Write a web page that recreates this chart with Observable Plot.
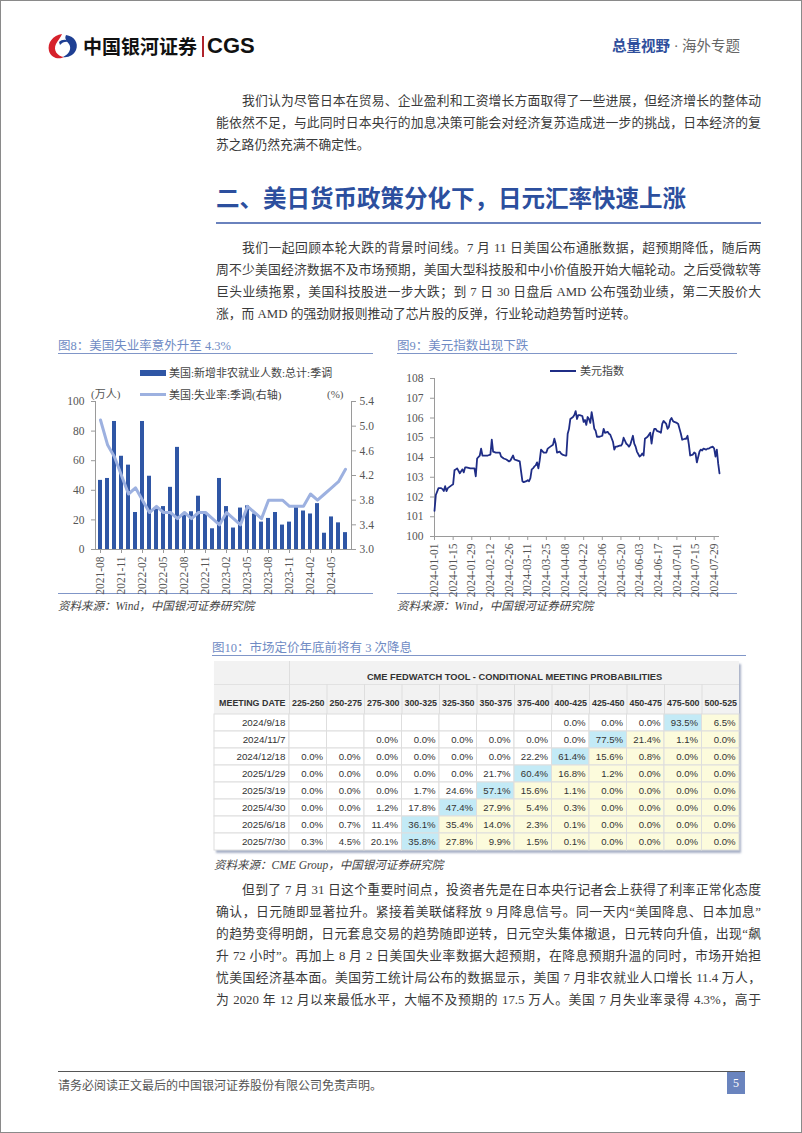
<!DOCTYPE html>
<html><head><meta charset="utf-8">
<script src="https://cdn.jsdelivr.net/npm/d3@7"></script>
<script src="https://cdn.jsdelivr.net/npm/@observablehq/plot@0.6"></script>
<style>
body{margin:0;background:#fff;}
#page{position:relative;width:800px;height:1131px;border:1px solid #8a8a8a;overflow:hidden;font-family:"Liberation Serif","Noto Sans CJK SC",serif;color:#3a3a3a;}
.abs{position:absolute;white-space:nowrap;}
.pline{position:absolute;left:215px;width:545px;height:22px;line-height:22px;font-size:12.8px;text-align:justify;text-align-last:justify;color:#3a3a3a;}
.pline.last{text-align-last:left;}
.cap{position:absolute;font-size:12.5px;color:#6f8bc4;font-family:"Liberation Serif","Noto Sans CJK SC",serif;}
.rule{position:absolute;height:0;}
.src{position:absolute;font-size:11.5px;font-style:italic;color:#444;white-space:nowrap;}
.leg{position:absolute;font-size:11px;color:#444;white-space:nowrap;font-family:"Liberation Serif","Noto Sans CJK SC",serif;}
svg{overflow:visible;}
</style>
</head><body>
<div id="page"></div>
<script>
// ---------------- DATA ----------------
const months = ["2021-08","2021-09","2021-10","2021-11","2021-12","2022-01","2022-02","2022-03","2022-04","2022-05","2022-06","2022-07","2022-08","2022-09","2022-10","2022-11","2022-12","2023-01","2023-02","2023-03","2023-04","2023-05","2023-06","2023-07","2023-08","2023-09","2023-10","2023-11","2023-12","2024-01","2024-02","2024-03","2024-04","2024-05","2024-06","2024-07"];
const payrolls = [46.7,48,86.5,63,57,25,86.5,49.5,28,29,42,69,24,25.5,36,25,14,48,29,14.5,28,29.5,24,18.5,21,25,16.5,18.5,29.5,26,24,31,11,22,18,11.4];
const unemployment = [5.1,4.7,4.5,4.2,3.9,4.0,3.8,3.6,3.7,3.6,3.6,3.5,3.6,3.5,3.6,3.6,3.5,3.4,3.6,3.5,3.4,3.7,3.6,3.5,3.8,3.8,3.8,3.7,3.7,3.7,3.9,3.8,3.9,4.0,4.1,4.3];
const payrollTicks = [0,20,40,60,80,100];
const rateTicks = [3.0,3.4,3.8,4.2,4.6,5.0,5.4];
const monthTickLabels = ["2021-08","2021-11","2022-02","2022-05","2022-08","2022-11","2023-02","2023-05","2023-08","2023-11","2024-02","2024-05"];

const dxyDates = ["2024-01-01","2024-01-02","2024-01-04","2024-01-06","2024-01-07","2024-01-08","2024-01-09","2024-01-10","2024-01-11","2024-01-12","2024-01-14","2024-01-15","2024-01-16","2024-01-17","2024-01-18","2024-01-20","2024-01-21","2024-01-22","2024-01-23","2024-01-24","2024-01-25","2024-01-28","2024-01-31",
"2024-02-01","2024-02-02","2024-02-04","2024-02-05","2024-02-06","2024-02-07","2024-02-10","2024-02-12","2024-02-13","2024-02-14","2024-02-16","2024-02-19","2024-02-20","2024-02-22","2024-02-24","2024-02-26","2024-02-27","2024-02-29",
"2024-03-01","2024-03-03","2024-03-05","2024-03-06","2024-03-07","2024-03-08","2024-03-10","2024-03-11","2024-03-12","2024-03-13","2024-03-14","2024-03-15","2024-03-16","2024-03-17","2024-03-18","2024-03-19","2024-03-20","2024-03-21","2024-03-23","2024-03-25","2024-03-26","2024-03-28","2024-03-30","2024-03-31",
"2024-04-01","2024-04-02","2024-04-04","2024-04-05","2024-04-06","2024-04-08","2024-04-09","2024-04-10","2024-04-11","2024-04-12","2024-04-14","2024-04-15","2024-04-16","2024-04-17","2024-04-18","2024-04-19","2024-04-21","2024-04-22","2024-04-23","2024-04-24","2024-04-25","2024-04-26","2024-04-27","2024-04-28","2024-04-29","2024-04-30",
"2024-05-01","2024-05-02","2024-05-04","2024-05-06","2024-05-07","2024-05-08","2024-05-10","2024-05-11","2024-05-12","2024-05-14","2024-05-15","2024-05-16","2024-05-17","2024-05-19","2024-05-20","2024-05-21","2024-05-22","2024-05-24","2024-05-25","2024-05-26","2024-05-27","2024-05-29","2024-05-30","2024-05-31",
"2024-06-01","2024-06-03","2024-06-04","2024-06-05","2024-06-06","2024-06-07","2024-06-08","2024-06-09","2024-06-11","2024-06-12","2024-06-13","2024-06-14","2024-06-15","2024-06-16","2024-06-18","2024-06-19","2024-06-20","2024-06-21","2024-06-23","2024-06-24","2024-06-25","2024-06-26","2024-06-27","2024-06-28","2024-06-29",
"2024-07-01","2024-07-02","2024-07-03","2024-07-04","2024-07-05","2024-07-07","2024-07-08","2024-07-09","2024-07-10","2024-07-11","2024-07-13","2024-07-14","2024-07-15","2024-07-16","2024-07-18","2024-07-19","2024-07-20","2024-07-21","2024-07-23","2024-07-24","2024-07-25","2024-07-26","2024-07-28","2024-07-29","2024-07-30","2024-07-31","2024-08-01","2024-08-02"];
const dxyValues = [101.3,102.1,102.45,102.45,102.4,102.3,102.55,102.3,102.45,102.5,102.6,102.65,103.35,103.4,103.45,103.2,103.3,103.4,103.25,103.5,103.5,103.45,103.45,
103.05,103.95,104.1,104.45,104.1,104.1,104.1,104.15,104.9,104.3,104.25,104.25,104.05,103.95,103.9,103.8,103.85,104.1,
103.9,103.85,103.8,103.3,102.8,102.75,102.8,102.85,102.8,102.95,103.4,103.45,103.55,103.6,103.75,103.45,103.85,104.4,104.25,104.25,104.45,104.55,104.65,104.95,
104.7,104.25,104.3,104.2,104.15,104.1,104.1,105.2,105.45,105.95,106.05,106.15,106.35,105.95,106.15,106.15,106.1,105.8,105.9,105.65,106.05,105.95,105.75,106.3,105.9,105.45,
105.35,105.05,105.05,105.1,105.45,105.25,105.3,105.2,105.15,104.8,104.4,104.55,104.55,104.6,104.6,104.7,105.0,104.7,104.65,104.55,104.65,105.1,104.7,104.55,
104.3,104.05,104.1,104.2,104.1,104.95,105.0,105.05,105.25,104.7,105.2,105.45,105.45,105.35,105.3,105.25,105.7,105.85,105.7,105.45,105.55,105.9,106.0,105.85,105.8,
105.75,105.7,105.45,105.2,104.9,104.95,104.95,105.1,104.65,104.1,104.15,104.25,104.2,103.75,104.3,104.4,104.35,104.45,104.4,104.45,104.45,104.5,104.55,104.45,104.05,104.4,103.7,103.2];
const dxyTicks = [100,101,102,103,104,105,106,107,108];
const dxyDateTicks = ["2024-01-01","2024-01-15","2024-01-29","2024-02-12","2024-02-26","2024-03-11","2024-03-25","2024-04-08","2024-04-22","2024-05-06","2024-05-20","2024-06-03","2024-06-17","2024-07-01","2024-07-15","2024-07-29"];
const dxyDomain = ["2024-01-01","2024-08-02"];

const meetings = ["2024/9/18","2024/11/7","2024/12/18","2025/1/29","2025/3/19","2025/4/30","2025/6/18","2025/7/30"];
const rateRanges = ["225-250","250-275","275-300","300-325","325-350","350-375","375-400","400-425","425-450","450-475","475-500","500-525"];
const prob0918 = [null,null,null,null,null,null,null,0.0,0.0,0.0,93.5,6.5];
const prob1107 = [null,null,0.0,0.0,0.0,0.0,0.0,0.0,77.5,21.4,1.1,0.0];
const prob1218 = [0.0,0.0,0.0,0.0,0.0,0.0,22.2,61.4,15.6,0.8,0.0,0.0];
const prob0129 = [0.0,0.0,0.0,0.0,0.0,21.7,60.4,16.8,1.2,0.0,0.0,0.0];
const prob0319 = [0.0,0.0,0.0,1.7,24.6,57.1,15.6,1.1,0.0,0.0,0.0,0.0];
const prob0430 = [0.0,0.0,1.2,17.8,47.4,27.9,5.4,0.3,0.0,0.0,0.0,0.0];
const prob0618 = [0.0,0.7,11.4,36.1,35.4,14.0,2.3,0.1,0.0,0.0,0.0,0.0];
const prob0730 = [0.3,4.5,20.1,35.8,27.8,9.9,1.5,0.1,0.0,0.0,0.0,0.0];
const probRows = [prob0918,prob1107,prob1218,prob0129,prob0319,prob0430,prob0618,prob0730];

// ---------------- TEXT ----------------
const para1 = ["我们认为尽管日本在贸易、企业盈利和工资增长方面取得了一些进展，但经济增长的整体动","能依然不足，与此同时日本央行的加息决策可能会对经济复苏造成进一步的挑战，日本经济的复","苏之路仍然充满不确定性。"];
const para2 = ["我们一起回顾本轮大跌的背景时间线。7 月 11 日美国公布通胀数据，超预期降低，随后两","周不少美国经济数据不及市场预期，美国大型科技股和中小价值股开始大幅轮动。之后受微软等","巨头业绩拖累，美国科技股进一步大跌；到 7 日 30 日盘后 AMD 公布强劲业绩，第二天股价大","涨，而 AMD 的强劲财报则推动了芯片股的反弹，行业轮动趋势暂时逆转。"];
const para3 = ["但到了 7 月 31 日这个重要时间点，投资者先是在日本央行记者会上获得了利率正常化态度","确认，日元随即显著拉升。紧接着美联储释放 9 月降息信号。同一天内“美国降息、日本加息”","的趋势变得明朗，日元套息交易的趋势随即逆转，日元空头集体撤退，日元转向升值，出现“飙","升 72 小时”。再加上 8 月 2 日美国失业率数据大超预期，在降息预期升温的同时，市场开始担","忧美国经济基本面。美国劳工统计局公布的数据显示，美国 7 月非农就业人口增长 11.4 万人，","为 2020 年 12 月以来最低水平，大幅不及预期的 17.5 万人。美国 7 月失业率录得 4.3%，高于"];

// ---------------- PAGE ----------------
const page = document.getElementById("page");
function el(tag, cls, style, html){const e=document.createElement(tag); if(cls) e.className=cls; if(style) e.setAttribute("style",style); if(html!=null) e.innerHTML=html; page.appendChild(e); return e;}
function para(lines, top, lastIsEnd){
  lines.forEach((t,i)=>{
    const isLast = i===lines.length-1 && lastIsEnd;
    el("div","pline"+(isLast?" last":""),`top:${top+i*22-11}px;`+(i===0?"padding-left:26px;width:519px;":""),t);
  });
}

// header
el("div","abs",`left:46px;top:32px;`,`<svg width="32" height="27" viewBox="0 0 32 27"><path d="M15 1 C6 2 0 10 2 18 C4 25 12 27 17 24 C10 23 6 17 9 11 C11 7 14 4 15 1Z" fill="#d6212b"/><path d="M19 2 C27 3 32 10 29 17 C27 22 21 25 16 24 C22 21 25 16 22 11 C20 8 17 6 19 2Z" fill="#1e3f93"/><path d="M12 9 C15 6 20 6 22 9 C19 8 15 9 13 12Z" fill="#1e3f93"/></svg>`);
el("div","abs",`left:82px;top:32px;font-family:'Noto Sans CJK SC',sans-serif;font-weight:700;font-size:19px;line-height:26px;color:#111;`,"中国银河证券");
el("div","abs",`left:201px;top:35px;width:1.5px;height:21px;background:#b0242c;`);
el("div","abs",`left:206px;top:31px;font-family:'Liberation Sans',Arial,sans-serif;font-weight:700;font-size:22px;line-height:28px;color:#111;`,"CGS");
el("div","abs",`left:611px;top:35px;font-size:14.5px;line-height:20px;font-family:'Liberation Serif','Noto Sans CJK SC',serif;`,`<span style="color:#2f4f9c;font-weight:700">总量视野</span><span style="color:#666"> · 海外专题</span>`);

para(para1,100,true);
el("div","abs",`left:215px;top:180px;font-family:'Noto Sans CJK SC',sans-serif;font-weight:700;font-size:23.5px;line-height:32px;color:#2c4f9e;`,"二、美日货币政策分化下，日元汇率快速上涨");
el("div","rule",`left:215px;top:221px;width:545px;border-top:2px solid #6a82bd;`);
para(para2,247,true);

// figure captions
el("div","cap",`left:57px;top:334px;`,"图8：美国失业率意外升至 4.3%");
el("div","rule",`left:57px;top:352px;width:315px;border-top:1.5px solid #8096c8;`);
el("div","cap",`left:396px;top:334px;`,"图9：美元指数出现下跌");
el("div","rule",`left:396px;top:352px;width:340px;border-top:1.5px solid #8096c8;`);
el("div","rule",`left:57px;top:592px;width:315px;border-top:1.5px solid #8096c8;`);
el("div","rule",`left:396px;top:592px;width:340px;border-top:1.5px solid #8096c8;`);
el("div","src",`left:57px;top:596px;`,"资料来源：Wind，中国银河证券研究院");
el("div","src",`left:396px;top:596px;`,"资料来源：Wind，中国银河证券研究院");

// legends fig8
el("div","abs",`left:139px;top:369px;width:26px;height:6px;background:#2f56a5;`);
el("div","leg",`left:168px;top:364px;line-height:16px;`,"美国:新增非农就业人数:总计:季调");
el("div","abs",`left:139px;top:392px;width:26px;height:3px;background:#9db1e0;`);
el("div","leg",`left:168px;top:386px;line-height:16px;`,"美国:失业率:季调(右轴)");
el("div","leg",`left:90px;top:385px;line-height:16px;color:#555;`,"(万人)");
el("div","leg",`left:326px;top:385px;line-height:16px;color:#555;`,"(%)");
// legend fig9
el("div","abs",`left:549px;top:369px;width:26px;height:2px;background:#1f2d86;`);
el("div","leg",`left:579px;top:362px;line-height:16px;`,"美元指数");

// ---------------- FIG 8 ----------------
const rateMin = rateTicks[0], rateMax = rateTicks[rateTicks.length-1];
const payMax = payrollTicks[payrollTicks.length-1];
const toLeft = r => (r - rateMin)/(rateMax-rateMin)*payMax;
const fromLeft = v => rateMin + v/payMax*(rateMax-rateMin);
const jobs = months.map((m,i)=>({month:m, payroll:payrolls[i], rate:unemployment[i]}));
const axisStyle = {fontFamily:"Liberation Serif, serif", fontSize:"11.5px", color:"#555", background:"transparent", overflow:"visible"};
const fig8 = Plot.plot({
  width:340, height:205, marginTop:10, marginLeft:54, marginRight:30, marginBottom:47,
  style: axisStyle,
  x:{type:"band", domain:months, padding:0.36, axis:null},
  y:{domain:[payrollTicks[0], payMax], axis:null},
  marks:[
    Plot.barY(jobs,{x:"month", y:"payroll", fill:"#2f56a5"}),
    Plot.line(jobs,{x:"month", y:d=>toLeft(d.rate), stroke:"#9db1e0", strokeWidth:3, strokeLinejoin:"round"}),
    Plot.frame({anchor:"left", stroke:"#9a9a9a"}),
    Plot.frame({anchor:"right", stroke:"#9a9a9a"}),
    Plot.ruleY([payrollTicks[0]],{stroke:"#9a9a9a"}),
    Plot.axisY({ticks:payrollTicks, anchor:"left", tickSize:4, tickPadding:7, stroke:"#9a9a9a", label:null}),
    Plot.axisY({ticks:rateTicks.map(toLeft), tickFormat:v=>fromLeft(v).toFixed(1), anchor:"right", tickSize:4, tickPadding:4, stroke:"#9a9a9a", label:null}),
    Plot.axisX({ticks:monthTickLabels, tickRotate:-90, tickSize:4, tickPadding:3, stroke:"#9a9a9a", label:null})
  ]
});
const w8 = el("div","abs","left:40px;top:390px;"); w8.appendChild(fig8);

// ---------------- FIG 9 ----------------
const dxy = dxyDates.map((d,i)=>({date:new Date(d), value:dxyValues[i]}));
const fig9 = Plot.plot({
  width:350, height:227, marginTop:12, marginLeft:43, marginRight:22, marginBottom:57,
  style: axisStyle,
  x:{type:"utc", domain:dxyDomain.map(d=>new Date(d)), axis:null},
  y:{domain:[dxyTicks[0], dxyTicks[dxyTicks.length-1]], axis:null},
  marks:[
    Plot.frame({anchor:"left", stroke:"#9a9a9a"}),
    Plot.ruleY([dxyTicks[0]],{stroke:"#9a9a9a"}),
    Plot.line(dxy,{x:"date", y:"value", stroke:"#1f2d86", strokeWidth:1.8}),
    Plot.axisY({ticks:dxyTicks, anchor:"left", tickSize:4, tickPadding:7, stroke:"#9a9a9a", label:null}),
    Plot.axisX({ticks:dxyDateTicks.map(d=>new Date(d)), tickFormat:d3.utcFormat("%Y-%m-%d"), tickRotate:-90, tickSize:4, tickPadding:3, stroke:"#9a9a9a", label:null})
  ]
});
const w9 = el("div","abs","left:390px;top:365px;"); w9.appendChild(fig9);

// ---------------- FIG 10 (table) ----------------
el("div","cap",`left:211px;top:636px;`,"图10：市场定价年底前将有 3 次降息");
el("div","rule",`left:211px;top:654px;width:534px;border-top:1.5px solid #8096c8;`);
const cells = [];
probRows.forEach((row,r)=>{
  const vals = row.map(v=>v==null?-1:v);
  const mode = vals.indexOf(d3.max(vals));
  row.forEach((v,i)=>cells.push({meeting:meetings[r], col:i, value:v, kind: v==null?"empty":(i===mode?"mode":(i>mode?"above":"below"))}));
});
const fillOf = {empty:"#ffffff", below:"#ffffff", mode:"#c3eaf6", above:"#fcfbdc"};
const dateSpan = 2; // date column is two range-columns wide
const tableFont = "Liberation Sans, Arial, sans-serif";
const fig10 = Plot.plot({
  width:525, height:189, marginTop:53, marginLeft:75, marginRight:0, marginBottom:0,
  style:{fontFamily:tableFont, fontSize:"9.6px", color:"#333", background:"transparent", overflow:"visible"},
  x:{domain:[0, rateRanges.length], axis:null},
  y:{type:"band", domain:meetings, padding:0, axis:null},
  marks:[
    Plot.ruleX(d3.range(1, rateRanges.length), {stroke:"#dedede", insetTop:-30}),
    Plot.ruleX([0], {stroke:"#dedede", insetTop:-53}),
    Plot.barX(meetings,{x1:-dateSpan, x2:0, y:d=>d, fill:"#ffffff", stroke:"#dedede"}),
    Plot.barX(cells,{x1:"col", x2:d=>d.col+1, y:"meeting", fill:d=>fillOf[d.kind], stroke:"#dedede"}),
    Plot.text(cells.filter(d=>d.value!=null),{x:d=>d.col+1, y:"meeting", text:d=>d.value.toFixed(1)+"%", textAnchor:"end", dx:-4, fill:"#333"}),
    Plot.text(meetings,{x:0, y:d=>d, text:d=>d, textAnchor:"end", dx:-4, fill:"#333", fontSize:9.8}),
    Plot.text(rateRanges,{x:(d,i)=>i+0.5, frameAnchor:"top", dy:-15, text:d=>d, fontWeight:"bold", fontSize:8.9, fill:"#333"}),
    Plot.text(["MEETING DATE"],{x:0, frameAnchor:"top", dy:-15, dx:-4, textAnchor:"end", text:d=>d, fontWeight:"bold", fontSize:8.9, fill:"#333"}),
    Plot.text(["CME FEDWATCH TOOL - CONDITIONAL MEETING PROBABILITIES"],{x:rateRanges.length/2, frameAnchor:"top", dy:-41, text:d=>d, fontWeight:"bold", fontSize:9.3, fill:"#333"})
  ]
});
const w10 = el("div","abs",`left:213px;top:660px;width:525px;height:189px;background:linear-gradient(#f2f2f2 0,#f2f2f2 23px,#e2e2e2 23px,#e2e2e2 24px,#f2f2f2 24px,#f2f2f2 53px,#fff 53px);box-shadow:2px 3px 2px rgba(140,152,180,0.75);`);
w10.appendChild(fig10);
el("div","src",`left:213px;top:855px;`,"资料来源：CME Group，中国银河证券研究院");

para(para3,889,false);

// footer
el("div","rule",`left:57px;top:1070px;width:687px;border-top:1.5px solid #555;`);
el("div","abs",`left:57px;top:1077px;font-size:12px;line-height:16px;color:#555;`,"请务必阅读正文最后的中国银河证券股份有限公司免责声明。");
el("div","abs",`left:726px;top:1071px;width:18px;height:22px;background:#6a84be;color:#fff;font-size:12px;line-height:22px;text-align:center;`,"5");
</script>
</body></html>
